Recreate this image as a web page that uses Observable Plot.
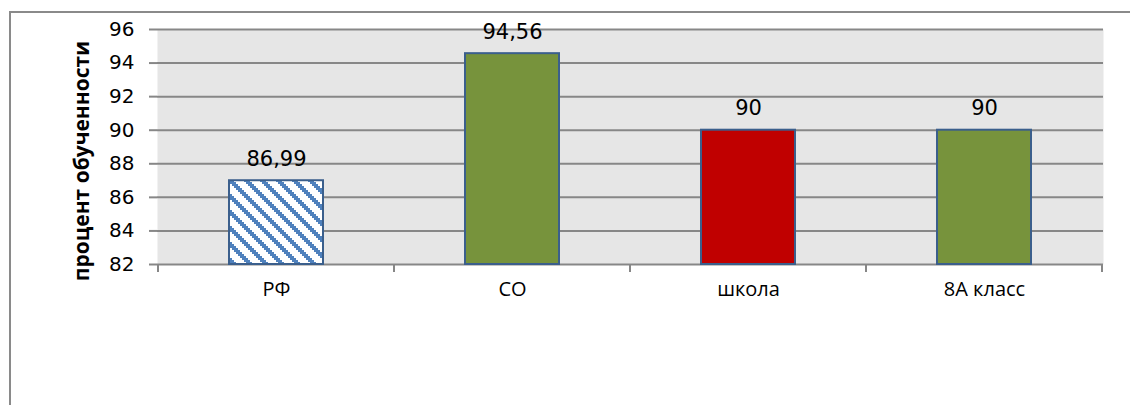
<!DOCTYPE html>
<html>
<head>
<meta charset="utf-8">
<script src="https://cdn.jsdelivr.net/npm/d3@7"></script>
<script src="https://cdn.jsdelivr.net/npm/@observablehq/plot@0.6"></script>
<style>
  html, body { margin: 0; padding: 0; background: #fff; }
  #wrap { position: relative; width: 1130px; height: 405px; overflow: hidden; }
  #border { position: absolute; left: 9px; top: 11px; width: 1200px; height: 500px;
            border-top: 2px solid #8a8a8a; border-left: 2px solid #8a8a8a; }
  #chart { position: absolute; left: 0; top: 0; }
</style>
</head>
<body>
<div id="wrap"><div id="border"></div><div id="chart"></div></div>
<script>
const categories = ["РФ", "СО", "школа", "8А класс"];
const values = [86.99, 94.56, 90, 90];
const barColors = ["url(#rf-diag)", "#77933c", "#c00000", "#77933c"];
const yDomain = [82, 96];
const yTicks = [82, 84, 86, 88, 90, 92, 94, 96];
const yLabel = "процент обученности";

const data = categories.map((c, i) => ({category: c, value: values[i]}));
const fmt = v => String(v).replace(".", ",");

const font = "'Open Sans', sans-serif";
const numFont = "'DejaVu Sans', sans-serif";
const chart = Plot.plot({
  width: 1130, height: 405,
  marginLeft: 157, marginRight: 27, marginTop: 29, marginBottom: 141,
  style: {fontFamily: font, fontSize: "20px", background: "transparent", color: "#000", overflow: "visible"},
  x: {domain: categories, paddingInner: 0.6, paddingOuter: 0.3, axis: null},
  y: {domain: yDomain, axis: null},
  color: {type: "ordinal", domain: categories, range: barColors},
  marks: [
    Plot.frame({fill: "#e6e6e6", stroke: "none"}),
    Plot.ruleY(yTicks, {stroke: "#878787", strokeWidth: 2}),
    Plot.axisY({ticks: yTicks, tickSize: 8, tickPadding: 15, stroke: "#878787", strokeWidth: 2, fill: "#000", fontSize: 20, fontFamily: numFont, label: null, line: true}),
    Plot.axisX({tickSize: 0, tickPadding: 17, fill: "#000", fontSize: 20, label: null}),
    Plot.barY(data, {x: "category", y1: yDomain[0], y2: "value", fill: "category", stroke: "#3b5f8c", strokeWidth: 2}),
    Plot.text(data, {x: "category", y: "value", text: d => fmt(d.value), lineAnchor: "bottom", dy: -15, fontSize: 21, fontFamily: numFont, fill: "#000"}),
    Plot.text([yLabel], {frameAnchor: "left", textAnchor: "middle", dx: -75, dy: 14, rotate: -90, fontWeight: "bold", fontSize: 21, fill: "#000"})
  ]
});

// stepped diagonal pattern for the РФ bar
const svg = d3.select(chart);
const defs = svg.insert("defs", ":first-child");
const pat = defs.append("pattern").attr("id", "rf-diag").attr("patternUnits", "userSpaceOnUse")
  .attr("width", 16).attr("height", 16);
pat.append("rect").attr("width", 16).attr("height", 16).attr("fill", "#fff");
let d = "";
for (let k = 0; k < 8; k++) {
  for (let j = 0; j < 3; j++) {
    const x = (2 * k + 2 * j) % 16;
    d += `M${x},${2 * k}h2v2h-2Z`;
  }
}
pat.append("path").attr("fill", "#4f81bd").attr("shape-rendering", "crispEdges").attr("d", d);

// category boundary ticks from the x scale
const xs = chart.scale("x");
const ys = chart.scale("y");
const base = ys.apply(yDomain[0]);
const bounds = categories.map(c => xs.apply(c) + xs.bandwidth / 2 - xs.step / 2)
  .concat([xs.apply(categories[categories.length - 1]) + xs.bandwidth / 2 + xs.step / 2]);
svg.append("g").selectAll("line").data(bounds).join("line")
  .attr("x1", v => v).attr("x2", v => v)
  .attr("y1", base).attr("y2", base + 8)
  .attr("stroke", "#878787").attr("stroke-width", 2);

document.getElementById("chart").appendChild(chart);
</script>
</body>
</html>
